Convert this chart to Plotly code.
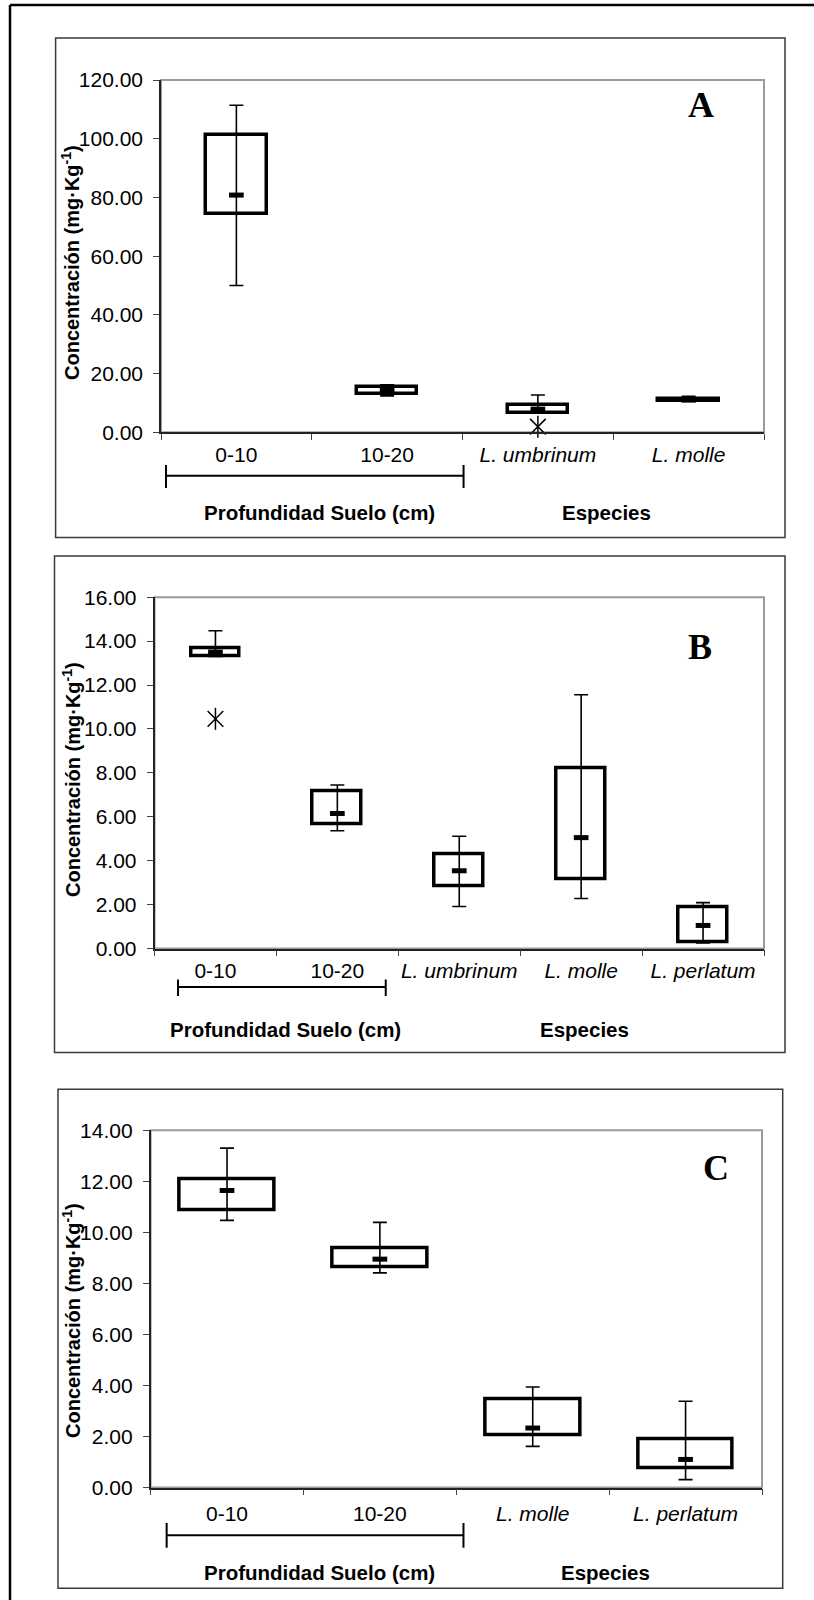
import plotly.graph_objects as go

W, H = 814, 1600

# ---------------- data ----------------
A_CATS = ["0-10", "10-20", "<i>L. umbrinum</i>", "<i>L. molle</i>"]
A_LOW = [50.0, 12.4, 6.5, 10.5]
A_Q1 = [74.5, 13.0, 6.5, 10.5]
A_MED = [80.8, 14.3, 7.9, 11.0]
A_Q3 = [101.2, 15.5, 9.35, 11.5]
A_HIGH = [111.4, 16.2, 12.7, 12.3]
A_OUT_X = ["<i>L. umbrinum</i>"]
A_OUT_Y = [1.9]
A_YMAX, A_DTICK = 120, 20

B_CATS = ["0-10", "10-20", "<i>L. umbrinum</i>", "<i>L. molle</i>", "<i>L. perlatum</i>"]
B_LOW = [13.3, 5.36, 1.91, 2.28, 0.25]
B_Q1 = [13.3, 5.66, 2.86, 3.16, 0.27]
B_MED = [13.5, 6.15, 3.54, 5.05, 1.05]
B_Q3 = [13.68, 7.15, 4.28, 8.22, 1.89]
B_HIGH = [14.47, 7.45, 5.11, 11.56, 2.09]
B_OUT_X = ["0-10"]
B_OUT_Y = [10.46]
B_YMAX, B_DTICK = 16, 2

C_CATS = ["0-10", "10-20", "<i>L. molle</i>", "<i>L. perlatum</i>"]
C_LOW = [10.47, 8.41, 1.61, 0.31]
C_Q1 = [10.87, 8.63, 2.03, 0.75]
C_MED = [11.64, 8.95, 2.33, 1.10]
C_Q3 = [12.07, 9.38, 3.44, 1.90]
C_HIGH = [13.30, 10.39, 3.94, 3.38]
C_OUT_X = []
C_OUT_Y = []
C_YMAX, C_DTICK = 14, 2

Y_TITLE = "<b>Concentración (mg·Kg<sup>-1</sup>)</b>"
GROUP_LABELS = ["<b>Profundidad Suelo (cm)</b>", "<b>Especies</b>"]
PANEL_LETTERS = ["A", "B", "C"]

SANS = "Liberation Sans, Arial, sans-serif"
SERIF = "Liberation Serif, Times New Roman, serif"


def px_x(p):
    return p / W


def px_y(p):
    return 1 - p / H


PANELS = [
    dict(cats=A_CATS, low=A_LOW, q1=A_Q1, med=A_MED, q3=A_Q3, high=A_HIGH,
         ox=A_OUT_X, oy=A_OUT_Y, ymax=A_YMAX, dtick=A_DTICK, bw=0.40,
         plot=(161, 764, 80, 432.3), frame=(55.6, 785, 37.9, 537.5),
         bracket=(-0.467, 1.507, 475.7, 465, 488), ytitle_y=263, xstand=3,
         grp=((319, 512), (606, 512)), letter=(701, 105)),
    dict(cats=B_CATS, low=B_LOW, q1=B_Q1, med=B_MED, q3=B_Q3, high=B_HIGH,
         ox=B_OUT_X, oy=B_OUT_Y, ymax=B_YMAX, dtick=B_DTICK, bw=0.40,
         plot=(154.5, 764, 597.2, 948.5), frame=(54.5, 785, 556, 1052.4),
         bracket=(-0.307, 1.397, 987, 979.5, 996), ytitle_y=780, xstand=3,
         grp=((285.6, 1029), (584, 1029)), letter=(700, 647)),
    dict(cats=C_CATS, low=C_LOW, q1=C_Q1, med=C_MED, q3=C_Q3, high=C_HIGH,
         ox=C_OUT_X, oy=C_OUT_Y, ymax=C_YMAX, dtick=C_DTICK, bw=0.62,
         plot=(150.6, 762, 1130.3, 1487.5), frame=(58, 782.7, 1089.3, 1588.3),
         bracket=(-0.395, 1.547, 1535.2, 1523, 1547.7), ytitle_y=1321, xstand=7,
         grp=((319, 1572), (605, 1572)), letter=(716, 1168)),
]

fig = go.Figure()
shapes = []
annotations = []
layout_axes = {}

for i, p in enumerate(PANELS):
    n = i + 1
    xa = "x" if n == 1 else f"x{n}"
    ya = "y" if n == 1 else f"y{n}"
    xkey = "xaxis" if n == 1 else f"xaxis{n}"
    ykey = "yaxis" if n == 1 else f"yaxis{n}"

    iqr = [b - a for a, b in zip(p["q1"], p["q3"])]
    fig.add_trace(go.Bar(
        x=p["cats"], y=iqr, base=p["q1"], width=p["bw"],
        marker=dict(color="rgba(0,0,0,0)", line=dict(color="black", width=3.5)),
        xaxis=xa, yaxis=ya, showlegend=False, hoverinfo="skip"))
    fig.add_trace(go.Scatter(
        x=p["cats"], y=p["med"], mode="markers",
        marker=dict(symbol="line-ew-open", size=10.5, color="black",
                    line=dict(color="black", width=5)),
        error_y=dict(type="data", symmetric=False,
                     array=[h - m for h, m in zip(p["high"], p["med"])],
                     arrayminus=[m - l for m, l in zip(p["med"], p["low"])],
                     color="black", thickness=1.6, width=7),
        xaxis=xa, yaxis=ya, showlegend=False, cliponaxis=False))
    if p["ox"]:
        for sym in ["x-thin-open", "line-ns-open"]:
            fig.add_trace(go.Scatter(
                x=p["ox"], y=p["oy"], mode="markers",
                marker=dict(symbol=sym, size=15.7, color="black",
                            line=dict(color="black", width=1.5)),
                xaxis=xa, yaxis=ya, showlegend=False, cliponaxis=False))

    l, r, t, b = p["plot"]
    ncat = len(p["cats"])
    layout_axes[xkey] = dict(
        domain=[px_x(l), px_x(r)], anchor=ya, type="category",
        categoryorder="array", categoryarray=p["cats"],
        range=[-0.5, ncat - 0.5], automargin=False, tickangle=0,
        ticklabelstandoff=p["xstand"],
        showline=True, linecolor="#222", linewidth=1.5,
        ticks="outside", tickson="boundaries", ticklen=6, tickwidth=1,
        tickcolor="#444", showgrid=False, zeroline=False,
        tickfont=dict(family=SANS, size=21, color="black"), fixedrange=True)
    layout_axes[ykey] = dict(
        domain=[px_y(b), px_y(t)], anchor=xa, range=[0, p["ymax"]],
        dtick=p["dtick"], tick0=0, tickformat=".2f", automargin=False,
        ticklabelstandoff=6,
        showline=True, linecolor="#222", linewidth=1.5,
        ticks="outside", ticklen=6, tickwidth=1, tickcolor="#444",
        showgrid=False, zeroline=False,
        tickfont=dict(family=SANS, size=21, color="black"), fixedrange=True)

    shapes.append(dict(type="rect", xref=f"{xa} domain", yref=f"{ya} domain",
                       x0=0, x1=1, y0=0, y1=1, layer="below",
                       line=dict(color="#9a9a9a", width=2)))
    fl, fr, ft, fb = p["frame"]
    shapes.append(dict(type="rect", xref="paper", yref="paper",
                       x0=px_x(fl), x1=px_x(fr), y0=px_y(fb), y1=px_y(ft),
                       line=dict(color="#3a3a3a", width=1.5)))
    bx0, bx1, by, bt0, bt1 = p["bracket"]
    shapes.append(dict(type="line", xref=xa, yref="paper", x0=bx0, x1=bx1,
                       y0=px_y(by), y1=px_y(by), line=dict(color="black", width=2)))
    for bxx in (bx0, bx1):
        shapes.append(dict(type="line", xref=xa, yref="paper", x0=bxx, x1=bxx,
                           y0=px_y(bt0), y1=px_y(bt1),
                           line=dict(color="black", width=2)))

    annotations.append(dict(text=Y_TITLE, textangle=-90, xref="paper", yref="paper",
                            x=px_x(71), y=px_y(p["ytitle_y"]), xanchor="center",
                            yanchor="middle", showarrow=False,
                            font=dict(family=SANS, size=20, color="black")))
    for txt, (gx, gy) in zip(GROUP_LABELS, p["grp"]):
        annotations.append(dict(text=txt, xref="paper", yref="paper",
                                x=px_x(gx), y=px_y(gy), xanchor="center",
                                yanchor="middle", showarrow=False,
                                font=dict(family=SANS, size=20.5, color="black")))
    lx, ly = p["letter"]
    annotations.append(dict(text="<b>" + PANEL_LETTERS[i] + "</b>", xref="paper",
                            yref="paper", x=px_x(lx), y=px_y(ly), xanchor="center",
                            yanchor="middle", showarrow=False,
                            font=dict(family=SERIF, size=36, color="black")))

shapes.append(dict(type="line", xref="paper", yref="paper", x0=px_x(10), x1=px_x(10),
                   y0=0, y1=px_y(5), line=dict(color="black", width=2.5)))
shapes.append(dict(type="line", xref="paper", yref="paper", x0=px_x(10), x1=1,
                   y0=px_y(5), y1=px_y(5), line=dict(color="black", width=2.5)))

fig.update_layout(
    width=W, height=H, autosize=False,
    margin=dict(l=0, r=0, t=0, b=0, pad=0, autoexpand=False),
    paper_bgcolor="white", plot_bgcolor="white",
    showlegend=False, shapes=shapes, annotations=annotations,
    bargap=0, **layout_axes)

PAGE_FIX = ("document.documentElement.style.margin='0';"
            "document.documentElement.style.padding='0';"
            "document.documentElement.style.overflow='hidden';"
            "document.body.style.margin='0';"
            "document.body.style.padding='0';"
            "document.body.style.overflow='hidden';")

fig.write_html("out.html", post_script=PAGE_FIX,
               config={"displayModeBar": False})
